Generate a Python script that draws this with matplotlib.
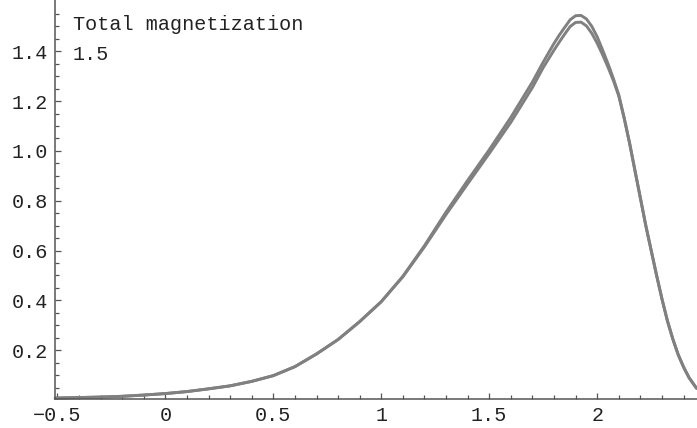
import matplotlib
matplotlib.use("Agg")
import matplotlib.pyplot as plt
from matplotlib.ticker import FixedLocator

# Field values and the two magnetization curves
field = [-0.51, -0.4, -0.3, -0.2, -0.1, 0.0, 0.1, 0.2, 0.3, 0.4, 0.5, 0.6, 0.7,
         0.8, 0.9, 1.0, 1.1, 1.2, 1.3, 1.4, 1.5, 1.6, 1.7, 1.75, 1.8, 1.825,
         1.85, 1.875, 1.9, 1.925, 1.95, 1.975, 2.0, 2.025, 2.05, 2.075, 2.1,
         2.125, 2.15, 2.175, 2.2, 2.225, 2.25, 2.275, 2.3, 2.325, 2.35, 2.375,
         2.4, 2.425, 2.46]
mag_lower = [0.008, 0.010, 0.012, 0.015, 0.020, 0.026, 0.034, 0.045, 0.057, 0.075,
             0.098, 0.134, 0.185, 0.243, 0.315, 0.395, 0.495, 0.615, 0.745, 0.868,
             0.990, 1.115, 1.255, 1.335, 1.405, 1.438,
             1.470, 1.500, 1.516, 1.517, 1.502, 1.472, 1.432, 1.386, 1.336, 1.282,
             1.220, 1.130, 1.030, 0.920, 0.810, 0.700, 0.600, 0.500, 0.405, 0.318,
             0.245, 0.182, 0.132, 0.090, 0.047]
mag_upper = [0.008, 0.010, 0.012, 0.015, 0.020, 0.026, 0.034, 0.045, 0.057, 0.075,
             0.098, 0.134, 0.185, 0.243, 0.315, 0.395, 0.497, 0.620, 0.755, 0.882,
             1.005, 1.135, 1.277, 1.357, 1.432, 1.466,
             1.497, 1.527, 1.543, 1.544, 1.530, 1.500, 1.458, 1.405, 1.350, 1.290,
             1.224, 1.132, 1.031, 0.920, 0.810, 0.700, 0.600, 0.500, 0.405, 0.318,
             0.245, 0.182, 0.132, 0.090, 0.047]

x_major = [-0.5, 0.0, 0.5, 1.0, 1.5, 2.0]
x_labels = ["\u22120.5", "0", "0.5", "1", "1.5", "2"]
y_major = [0.2, 0.4, 0.6, 0.8, 1.0, 1.2, 1.4]
y_labels = ["0.2", "0.4", "0.6", "0.8", "1.0", "1.2", "1.4"]

W, H = 697, 428
fig = plt.figure(figsize=(W / 100, H / 100), dpi=100)
fig.patch.set_facecolor("white")

ax_left, ax_bottom_px = 55, 399.3
ax = fig.add_axes([ax_left / W, (H - ax_bottom_px) / H,
                   (W - ax_left) / W, ax_bottom_px / H])
ax.set_facecolor("none")

line_color = "#808080"
for series in (mag_upper, mag_lower):
    ax.plot(field, series, color=line_color, lw=2.1, solid_capstyle="round",
            solid_joinstyle="round", clip_on=False)

ax.set_xlim(-0.511, 2.462)
ax.set_ylim(0.003, 1.606)

for side in ("top", "right"):
    ax.spines[side].set_visible(False)
axis_color = "#555555"
for side in ("left", "bottom"):
    ax.spines[side].set_color(axis_color)
    ax.spines[side].set_linewidth(1.1)

mono = "Liberation Mono"
label_size = 14.5
ax.xaxis.set_major_locator(FixedLocator(x_major))
ax.set_xticklabels(x_labels, fontfamily=mono, fontsize=label_size,
                   color="#222222")
ax.xaxis.set_minor_locator(FixedLocator(
    [v / 10 for v in range(-5, 25) if v % 5 != 0]))
ax.yaxis.set_major_locator(FixedLocator(y_major))
ax.set_yticklabels(y_labels, fontfamily=mono, fontsize=label_size,
                   color="#222222")
ax.yaxis.set_minor_locator(FixedLocator(
    [v / 20 for v in range(1, 32) if v % 4 != 0]))

ax.tick_params(axis="both", which="major", direction="in", length=4.5,
               width=0.9, color=axis_color, pad=5)
ax.tick_params(axis="both", which="minor", direction="in", length=2.8,
               width=0.9, color=axis_color)

# Axis caption in the upper left corner
fig.text(73 / W, 1 - 30 / H, "Total magnetization", fontfamily=mono,
         fontsize=label_size, color="#222222", ha="left", va="baseline")
fig.text(73 / W, 1 - 60 / H, "1.5", fontfamily=mono,
         fontsize=label_size, color="#222222", ha="left", va="baseline")

fig.savefig("out.png", dpi=100, facecolor="white")
